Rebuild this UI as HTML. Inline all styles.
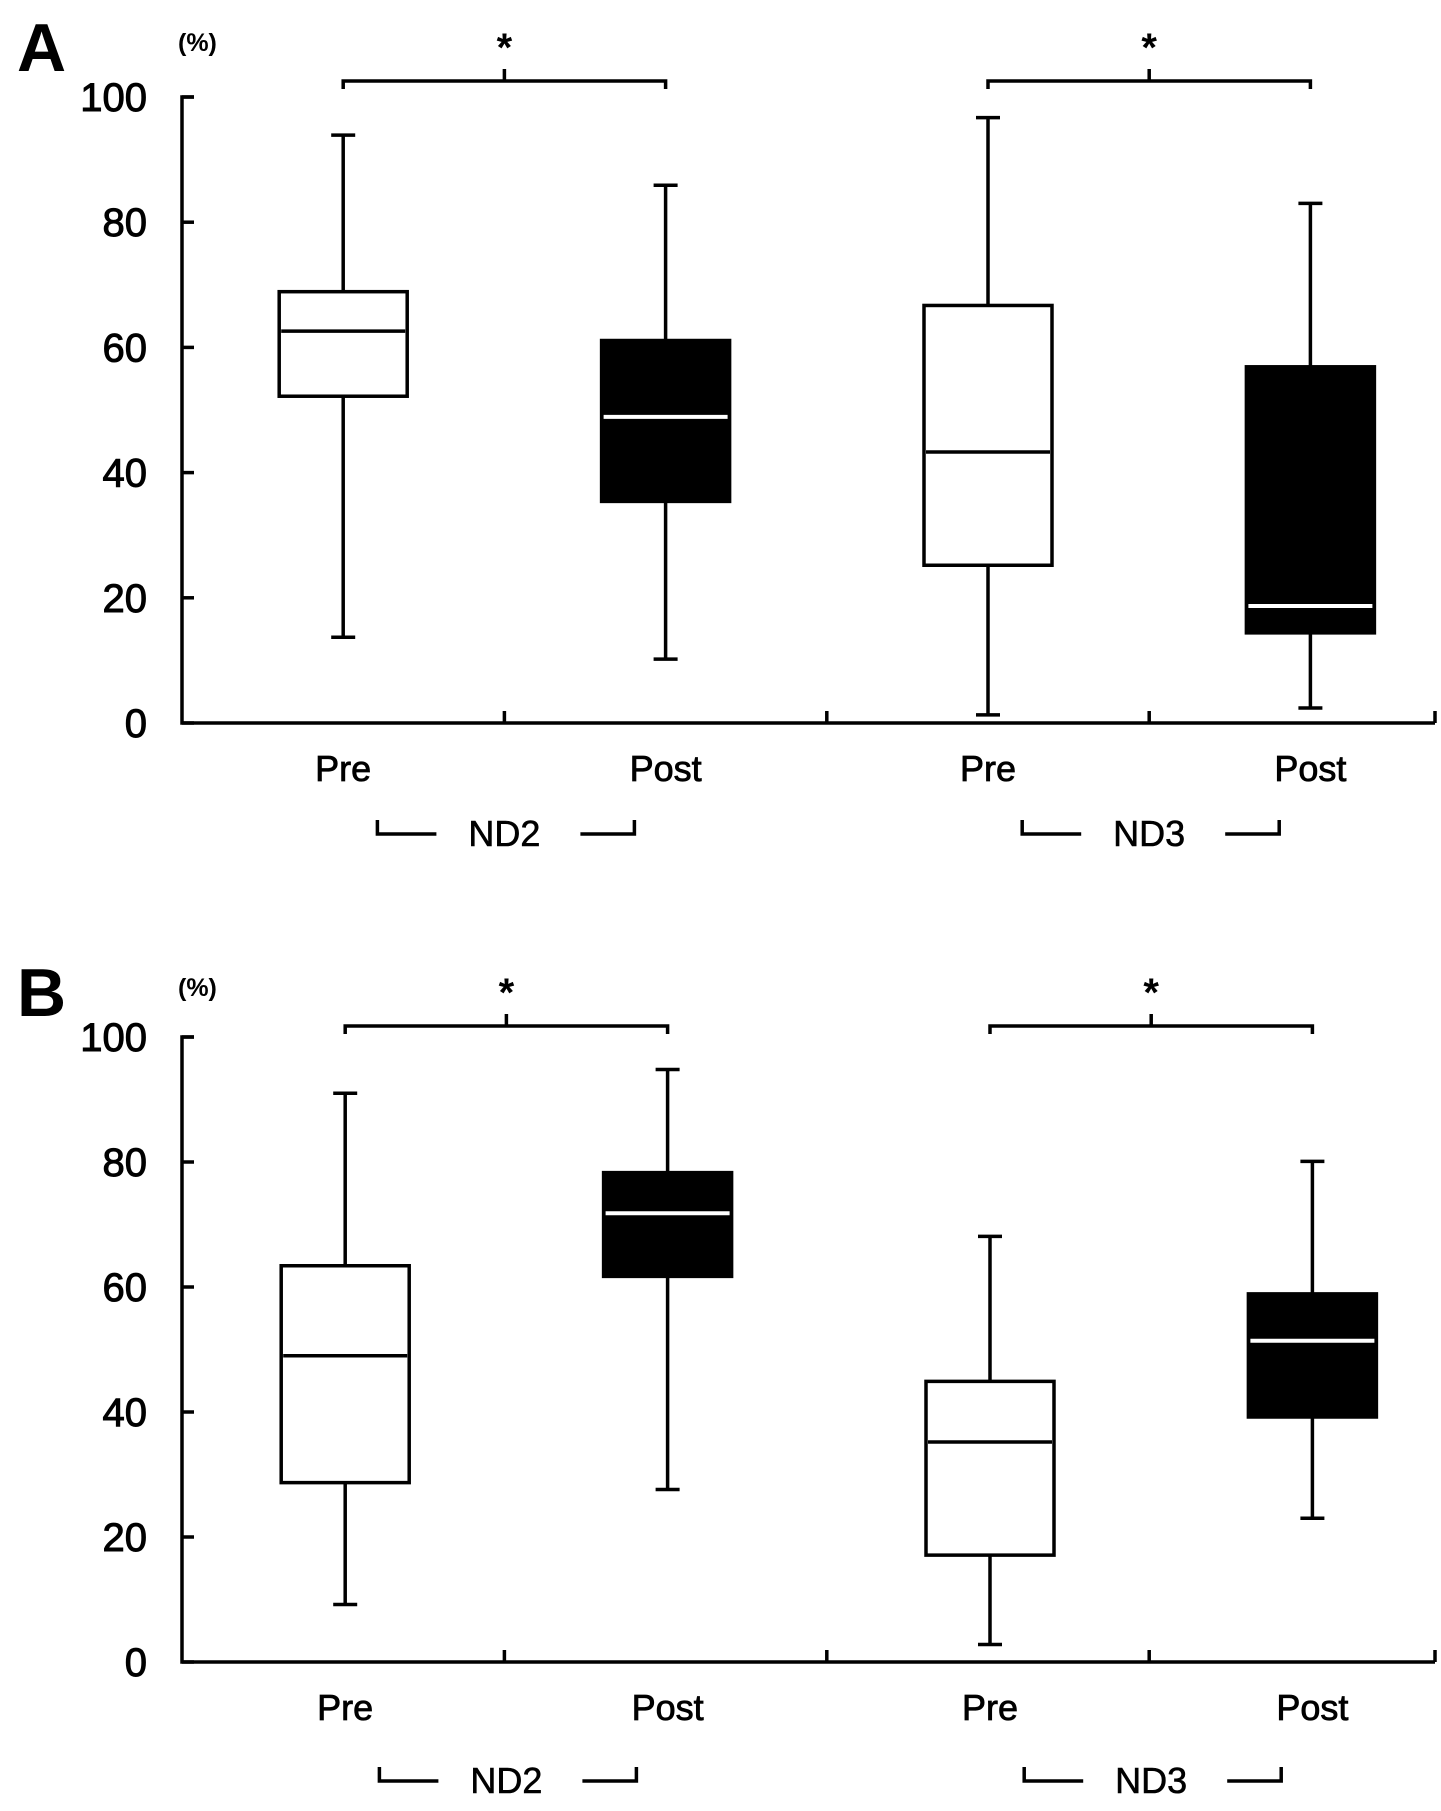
<!DOCTYPE html>
<html><head><meta charset="utf-8"><style>
html,body{margin:0;padding:0;background:#fff;}
svg{display:block;font-family:"Liberation Sans",Arial,sans-serif;}
</style></head><body>
<svg id="chart" width="1441" height="1811" viewBox="0 0 1441 1811"></svg>
<script>
const categories = ["Pre","Post","Pre","Post"];
const groups = ["ND2","ND3"];
const ticks = [0,20,40,60,80,100];
// panel A
const panelAWhiskerLow = [13.7,10.2,1.3,2.4];
const panelAQ1 = [52.2,35.4,25.2,14.4];
const panelAMedian = [62.6,48.9,43.3,18.7];
const panelAQ3 = [68.9,61.1,66.7,56.9];
const panelAWhiskerHigh = [93.9,85.9,96.7,83.0];
// panel B
const panelBWhiskerLow = [9.2,27.6,2.8,23.0];
const panelBQ1 = [28.7,61.7,17.1,39.2];
const panelBMedian = [49.0,71.8,35.2,51.4];
const panelBQ3 = [63.4,78.3,44.9,58.9];
const panelBWhiskerHigh = [91.0,94.8,68.1,80.1];

const NS="http://www.w3.org/2000/svg";
const svg=document.getElementById('chart');
function mk(tag,attrs,parent){const e=document.createElementNS(NS,tag);for(const k in attrs)e.setAttribute(k,attrs[k]);(parent||svg).appendChild(e);return e;}
function txt(s,attrs,parent){const t=mk('text',attrs,parent);t.textContent=s;return t;}

function panel(letter,top,y0,y100,xshift,gyOff,low,q1,med,q3,high){
  const g=mk('g',{});
  
  
  const y=v=>y0-(y0-y100)*v/100;
  const x0=182, step=161.2;
  const xc=i=>x0+step*(2*i+1)+xshift;
  const sw=3.5;
  const L=txt(letter,{x:17,y:top+50,'font-size':68,'font-weight':'bold'},g);
  
  
  const u=txt('(%)',{x:178,y:top+30,'font-size':25,'font-weight':'bold'},g);
  
  
  const ya=mk('path',{d:`M${x0+12} ${y(100)} H${x0} V${y0} H1435`,fill:'none',stroke:'#000','stroke-width':sw},g);
  
  
  ticks.forEach(t=>{
    mk('line',{x1:x0,x2:x0+12,y1:y(t),y2:y(t),stroke:'#000','stroke-width':sw},g);
    const tl=txt(String(t),{x:147,y:y(t)+14,'font-size':40,'text-anchor':'end',stroke:'#000','stroke-width':1},g);
    
    
  });
  for(let k=1;k<=4;k++){
    const xt=Math.min(x0+step*2*k,1435);
    mk('line',{x1:xt,x2:xt,y1:y0,y2:y0-12,stroke:'#000','stroke-width':sw},g);
  }
  categories.forEach((c,i)=>{
    const cx=xc(i), w=64, fill=i%2?'#000':'#fff';
    const wl=mk('line',{x1:cx,x2:cx,y1:y(high[i]),y2:y(low[i]),stroke:'#000','stroke-width':sw},g);
    
    
    mk('line',{x1:cx-12,x2:cx+12,y1:y(high[i]),y2:y(high[i]),stroke:'#000','stroke-width':sw},g);
    mk('line',{x1:cx-12,x2:cx+12,y1:y(low[i]),y2:y(low[i]),stroke:'#000','stroke-width':sw},g);
    const b=mk('rect',{x:cx-w,y:y(q3[i]),width:2*w,height:y(q1[i])-y(q3[i]),fill:fill,stroke:'#000','stroke-width':sw},g);
    
    
    const m=mk('line',{x1:cx-w+2,x2:cx+w-2,y1:y(med[i]),y2:y(med[i]),stroke:i%2?'#fff':'#000','stroke-width':i%2?4:sw},g);
    
    
    const cl=txt(c,{x:cx,y:y0+58,'font-size':36,'text-anchor':'middle',stroke:'#000','stroke-width':0.8},g);
    
    
  });
  groups.forEach((gname,j)=>{
    const a=xc(2*j), b=xc(2*j+1), mid=(a+b)/2, by=top+60;
    const br=mk('path',{d:`M${a} ${by+8} V${by} H${b} V${by+8} M${mid} ${by} V${by-12}`,fill:'none',stroke:'#000','stroke-width':sw},g);
    
    
    const s=txt('*',{x:mid,y:top+40,'font-size':40,'text-anchor':'middle','font-weight':'bold'},g);
    
    
    const gy=y0+111+gyOff;
    const gb=mk('path',{d:`M${mid-127} ${gy-14} V${gy} H${mid-68} M${mid+76} ${gy} H${mid+130} V${gy-14}`,fill:'none',stroke:'#000','stroke-width':sw},g);
    
    
    const gl=txt(gname,{x:mid,y:gy+12,'font-size':36,'text-anchor':'middle',stroke:'#000','stroke-width':0.6},g);
    
    
  });
}
panel('A',21,723,97,0,0,panelAWhiskerLow,panelAQ1,panelAMedian,panelAQ3,panelAWhiskerHigh);
panel('B',966,1662,1037,2,8,panelBWhiskerLow,panelBQ1,panelBMedian,panelBQ3,panelBWhiskerHigh);
</script>
</body></html>
